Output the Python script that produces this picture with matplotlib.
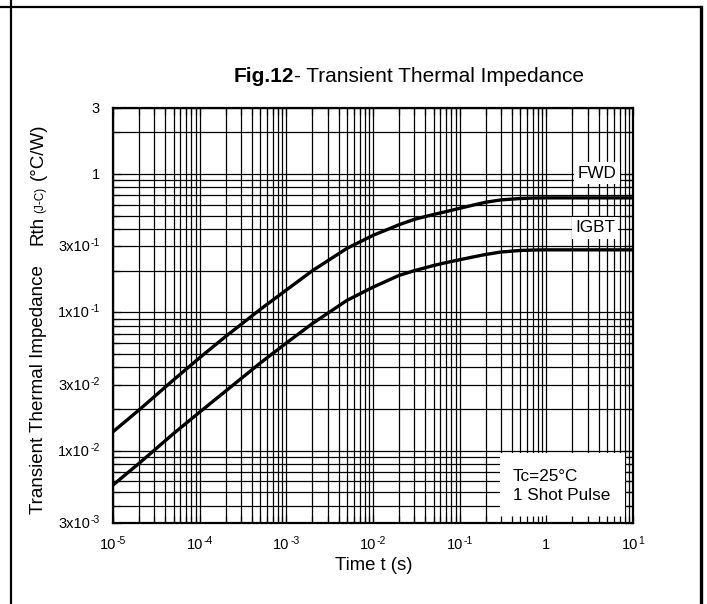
import matplotlib
matplotlib.use("Agg")
import matplotlib.pyplot as plt
from matplotlib.ticker import LogLocator, NullFormatter, FixedLocator
from matplotlib.lines import Line2D
from matplotlib.patches import Rectangle
from matplotlib.transforms import IdentityTransform

plt.rcParams['font.family'] = ['Liberation Sans', 'DejaVu Sans']

# ---- data ----
time_s = [1e-5, 2e-5, 5e-5, 1e-4, 2e-4, 5e-4, 1e-3, 2e-3, 5e-3,
          1e-2, 2e-2, 3e-2, 5e-2, 7e-2, 1e-1, 1.5e-1, 2e-1, 3e-1, 5e-1, 7e-1, 1.0, 10.0]
fwd_z = [0.0137, 0.0197, 0.0325, 0.047, 0.067, 0.105, 0.145, 0.20, 0.29,
         0.36, 0.43, 0.47, 0.51, 0.535, 0.565, 0.60, 0.625, 0.65, 0.665, 0.67, 0.672, 0.672]
igbt_z = [0.00565, 0.0081, 0.0133, 0.019, 0.027, 0.043, 0.060, 0.083, 0.122,
          0.152, 0.185, 0.200, 0.218, 0.229, 0.240, 0.253, 0.262, 0.273, 0.280, 0.282, 0.283, 0.283]

x_ticks = [1e-5, 1e-4, 1e-3, 1e-2, 1e-1, 1, 10]
x_tick_base = ['10', '10', '10', '10', '10', '1', '10']
x_tick_sup = ['-5', '-4', '-3', '-2', '-1', '', '1']
y_ticks = [3e-3, 1e-2, 3e-2, 1e-1, 3e-1, 1, 3]
y_tick_base = ['3x10', '1x10', '3x10', '1x10', '3x10', '1', '3']
y_tick_sup = ['-3', '-2', '-2', '-1', '-1', '', '']

W, H = 707, 604
fig = plt.figure(figsize=(W / 100, H / 100), dpi=100)
pos = [113 / W, 1 - 523 / H, 520 / W, 415 / H]
ax = fig.add_axes(pos)
renderer = fig.canvas.get_renderer()


def setup(a):
    a.set_xscale('log')
    a.set_yscale('log')
    a.set_xlim(1e-5, 10)
    a.set_ylim(3e-3, 3)
    a.xaxis.set_major_locator(FixedLocator(x_ticks))
    a.yaxis.set_major_locator(FixedLocator(y_ticks))
    a.xaxis.set_minor_locator(LogLocator(base=10, subs=range(2, 10), numticks=100))
    a.yaxis.set_minor_locator(LogLocator(base=10, subs=range(2, 10), numticks=100))
    for axis in (a.xaxis, a.yaxis):
        axis.set_major_formatter(NullFormatter())
        axis.set_minor_formatter(NullFormatter())


def rich(x, y, parts, ha='center', rotation=0, gaps=None):
    """parts: list of (text, size, weight, rise_px); x,y in display px (baseline)."""
    texts, lens = [], []
    for s, size, weight, rise in parts:
        if not s:
            continue
        t = fig.text(0, 0, s, fontsize=size, weight=weight, transform=IdentityTransform(),
                     ha='left', va='baseline', rotation=rotation, rotation_mode='anchor')
        bb = t.get_window_extent(renderer)
        texts.append((t, rise))
        lens.append(bb.width if rotation == 0 else bb.height)
    if gaps is None:
        gaps = [0.5] * len(texts)
    total = sum(lens) + sum(gaps[:len(texts) - 1])
    if ha == 'center':
        start = (x if rotation == 0 else y) - total / 2
    elif ha == 'right':
        start = (x if rotation == 0 else y) - total
    else:
        start = x if rotation == 0 else y
    along = start
    for i, ((t, rise), L) in enumerate(zip(texts, lens)):
        if rotation == 0:
            t.set_position((along, y + rise))
        else:
            t.set_position((x - rise, along))
        along += L + (gaps[i] if i < len(gaps) else 0)


setup(ax)
ax.grid(True, which='both', color='black', lw=0.9)
ax.tick_params(which='both', length=0)
for s in ax.spines.values():
    s.set_visible(False)

ax.plot(time_s, fwd_z, color='black', lw=2.4, solid_capstyle='butt', zorder=3)
ax.plot(time_s, igbt_z, color='black', lw=2.4, solid_capstyle='butt', zorder=3)

box = dict(facecolor='white', edgecolor='none', pad=2.5)
ax.text(0.931, 0.843, 'FWD', transform=ax.transAxes, ha='center', va='center',
        fontsize=12.3, bbox=box, zorder=4)
ax.text(0.927, 0.711, 'IGBT', transform=ax.transAxes, ha='center', va='center',
        fontsize=12.3, bbox=box, zorder=4)
ax.add_patch(Rectangle((0.744, 0.0), 0.241, 0.169, transform=ax.transAxes,
                       facecolor='white', edgecolor='none', zorder=4))
ax.text(0.769, 0.111, 'Tc=25°C', transform=ax.transAxes, ha='left', va='center',
        fontsize=12.3, zorder=5)
ax.text(0.769, 0.067, '1 Shot Pulse', transform=ax.transAxes, ha='left', va='center',
        fontsize=12.3, zorder=5)

# overlay axes for ticks and frame
ax2 = fig.add_axes(pos)
setup(ax2)
ax2.patch.set_visible(False)
ax2.tick_params(which='both', direction='in', top=True, right=True,
                color='black', width=0.9)
ax2.tick_params(which='major', length=6)
ax2.tick_params(which='minor', length=5)
for s in ax2.spines.values():
    s.set_linewidth(1.6)

# tick labels
for t, b, sp in zip(x_ticks, x_tick_base, x_tick_sup):
    xd = ax.transData.transform((t, 1))[0]
    rich(xd, H - 549, [(b, 10.5, 'normal', 0), (sp, 7.5, 'normal', 5)], ha='center')
for v, b, sp in zip(y_ticks, y_tick_base, y_tick_sup):
    yd = ax.transData.transform((1, v))[1]
    rich(100, yd - 5, [(b, 10.5, 'normal', 0), (sp, 7.5, 'normal', 5)], ha='right')

# titles / labels
rich(409, H - 81.5, [('Fig.12', 15, 'bold', 0),
                     ('- Transient Thermal Impedance', 15, 'normal', 0)], ha='center')
fig.text(374 / W, 1 - 565 / H, 'Time t (s)', ha='center', va='center', fontsize=13.3)
rich(43, H - 514, [('Transient Thermal Impedance', 13.5, 'normal', 0),
                   ('Rth', 13.5, 'normal', 0),
                   ('(J-C)', 8.5, 'normal', 0),
                   ('(°C/W)', 13.5, 'normal', 0)],
     ha='left', rotation=90, gaps=[20, 3, 7])

# outer frame lines
fig.add_artist(Line2D([0, 700 / W], [1 - 7 / H, 1 - 7 / H], transform=fig.transFigure,
                      color='black', lw=1.6))
fig.add_artist(Line2D([11 / W, 11 / W], [0, 1], transform=fig.transFigure,
                      color='black', lw=1.6))
fig.add_artist(Line2D([701 / W, 701 / W], [0, 1 - 7 / H], transform=fig.transFigure,
                      color='black', lw=2.4))

fig.savefig('out.png', dpi=100)
